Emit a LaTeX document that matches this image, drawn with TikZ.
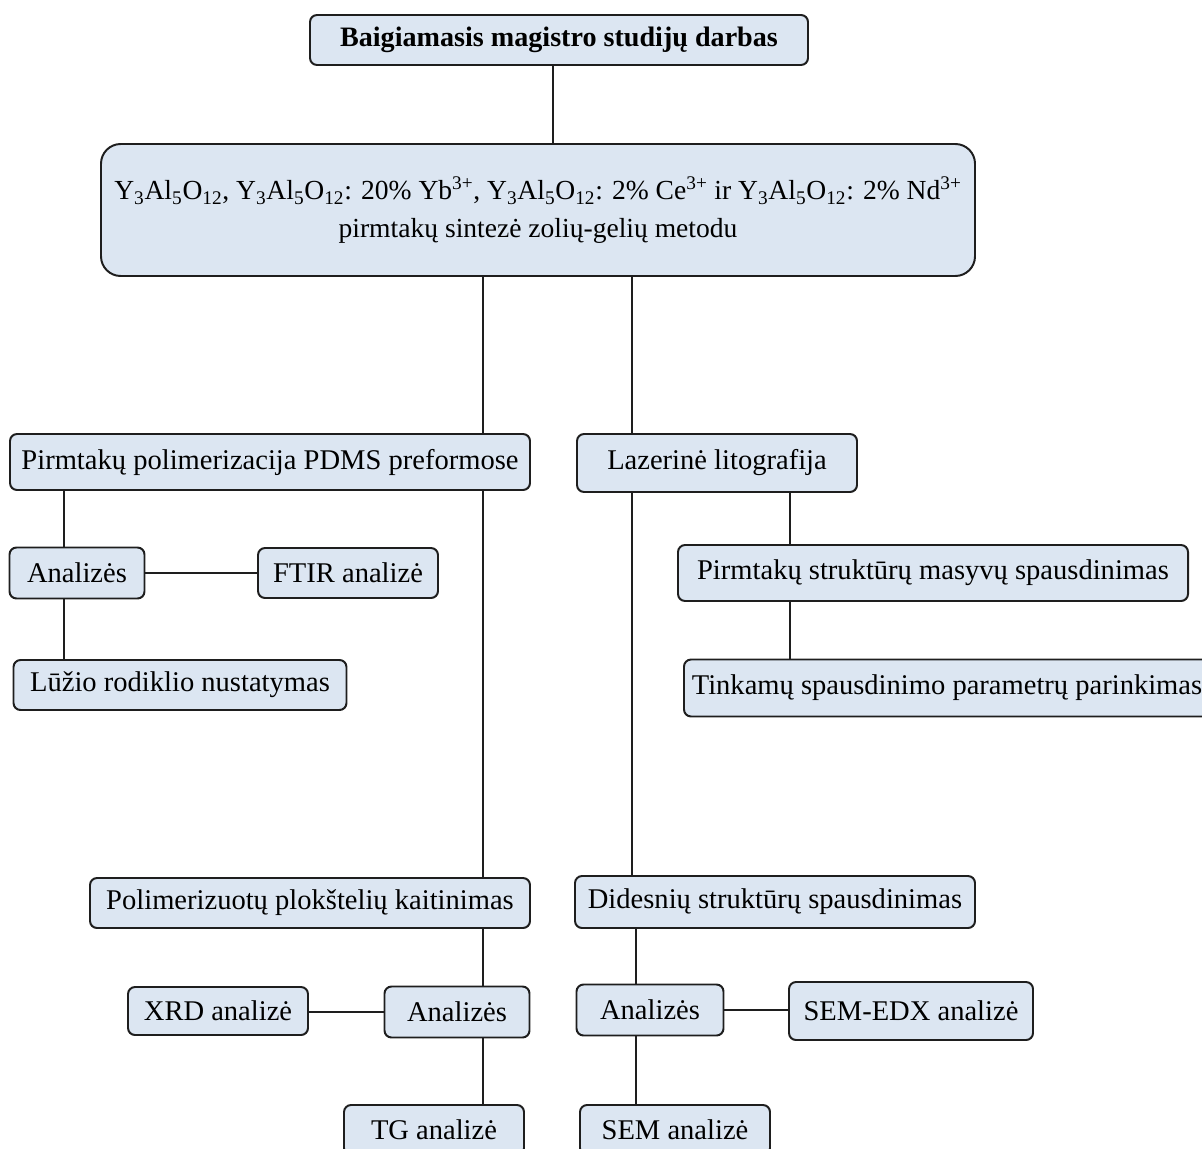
\documentclass[tikz,border=0pt]{standalone}
\usepackage{fontspec}
\setmainfont{Liberation Serif}

\definecolor{boxfill}{HTML}{DCE6F2}
\definecolor{boxline}{HTML}{1E1E1E}

\newcommand{\yag}{Y\textsubscript{3}Al\textsubscript{5}O\textsubscript{12}}

\begin{document}
\begin{tikzpicture}[x=0.025cm, y=-0.025cm,
    stage/.style={draw=boxline, fill=boxfill, line width=1.4pt,
        rounded corners=5pt, inner sep=0pt, align=center,
        font=\fontsize{20.3}{24}\selectfont},
    boxsize/.style 2 args={minimum width=#1*0.025cm, minimum height=#2*0.025cm},
    link/.style={draw=boxline, line width=1.4pt}]

\useasboundingbox (0,0) rectangle (1202,1149);

% ---- Top levels ----
\node[stage, boxsize={498}{50}, font=\fontsize{20}{24}\selectfont\bfseries]
    (thesis) at (559,40) {Baigiamasis magistro studijų darbas};
\node[stage, boxsize={874}{132}, rounded corners=14pt,
    font=\fontsize{19.6}{27}\selectfont] (synth) at (538,210)
    {\yag, \yag: 20\% Yb\textsuperscript{3+}, \yag: 2\% Ce\textsuperscript{3+}
     ir \yag: 2\% Nd\textsuperscript{3+}\\ pirmtakų sintezė zolių-gelių metodu};

% Trunk positions of the connectors
\coordinate (xT) at (553,0);
\coordinate (xA) at (64,0);
\coordinate (xL) at (483,0);
\coordinate (xR) at (632,0);
\coordinate (xM) at (790,0);
\coordinate (xD) at (636,0);

% ---- Left branch: PDMS preforms ----
\node[stage, boxsize={520}{56}] (polim) at (270,462) {Pirmtakų polimerizacija PDMS preformose};
\node[stage, boxsize={135}{51}] (anaA) at (77,573) {Analizės};
\node[stage, boxsize={180}{50}] (ftir) at (348,573) {FTIR analizė};
\node[stage, boxsize={333}{50}] (refr) at (180,685) {Lūžio rodiklio nustatymas};
\node[stage, boxsize={440}{50}] (heat) at (310,903) {Polimerizuotų plokštelių kaitinimas};
\node[stage, boxsize={145}{51}] (anaB) at (457,1012) {Analizės};
\node[stage, boxsize={180}{48}] (xrd) at (218,1011) {XRD analizė};
\node[stage, boxsize={180}{50}] (tg) at (434,1130) {TG analizė};

% ---- Right branch: laser lithography ----
\node[stage, boxsize={280}{58}] (laser) at (717,463) {Lazerinė litografija};
\node[stage, boxsize={510}{56}] (array) at (933,573) {Pirmtakų struktūrų masyvų spausdinimas};
\node[stage, boxsize={526}{57}] (param) at (947,688) {Tinkamų spausdinimo parametrų parinkimas};
\node[stage, boxsize={400}{52}] (large) at (775,902) {Didesnių struktūrų spausdinimas};
\node[stage, boxsize={147}{51}] (anaC) at (650,1010) {Analizės};
\node[stage, boxsize={244}{58}] (edx) at (911,1011) {SEM-EDX analizė};
\node[stage, boxsize={190}{50}] (sem) at (675,1130) {SEM analizė};

% ---- Connectors ----
\draw[link] (thesis.south -| xT) -- (synth.north -| xT);
\draw[link] (synth.south -| xL) -- (polim.north -| xL);
\draw[link] (synth.south -| xR) -- (laser.north -| xR);

\draw[link] (polim.south -| xA) -- (anaA.north -| xA);
\draw[link] (anaA.south -| xA) -- (refr.north -| xA);
\draw[link] (anaA.east) -- (ftir.west |- anaA.east);
\draw[link] (polim.south -| xL) -- (heat.north -| xL);
\draw[link] (heat.south -| xL) -- (anaB.north -| xL);
\draw[link] (anaB.south -| xL) -- (tg.north -| xL);
\draw[link] (anaB.west) -- (xrd.east |- anaB.west);

\draw[link] (laser.south -| xM) -- (array.north -| xM);
\draw[link] (array.south -| xM) -- (param.north -| xM);
\draw[link] (laser.south -| xR) -- (large.north -| xR);
\draw[link] (large.south -| xD) -- (anaC.north -| xD);
\draw[link] (anaC.south -| xD) -- (sem.north -| xD);
\draw[link] (anaC.east) -- (edx.west |- anaC.east);

\end{tikzpicture}
\end{document}
